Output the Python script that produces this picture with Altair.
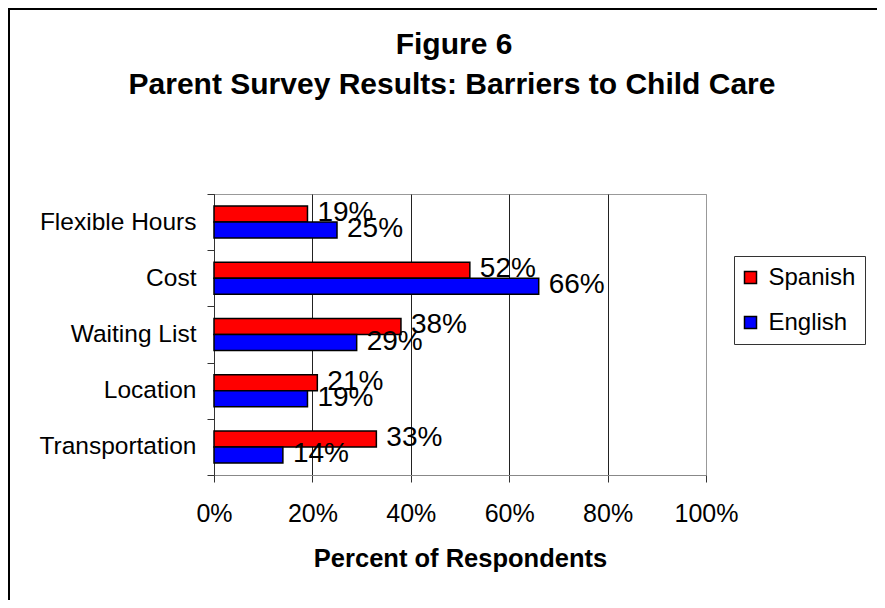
import altair as alt
import pandas as pd

categories = ["Flexible Hours", "Cost", "Waiting List", "Location", "Transportation"]
series = ["Spanish", "English"]
spanish = [19, 52, 38, 21, 33]
english = [25, 66, 29, 19, 14]
colors = ["#FF0000", "#0000FF"]
x_ticks = [0, 20, 40, 60, 80, 100]
title_lines = ["Figure 6", "Parent Survey Results: Barriers to Child Care"]

rows = []
for c, s, e in zip(categories, spanish, english):
    rows.append({"category": c, "series": "Spanish", "value": s / 100})
    rows.append({"category": c, "series": "English", "value": e / 100})
df = pd.DataFrame(rows)

FONT = "Liberation Sans"

y_enc = alt.Y(
    "category:N",
    sort=categories,
    scale=alt.Scale(paddingInner=0, paddingOuter=0),
    axis=alt.Axis(
        title=None, tickBand="extent", tickSize=7, labelPadding=11,
        labelFontSize=24.5, labelFont=FONT, labelColor="black",
        domainColor="#333333", tickColor="#333333", grid=False,
    ),
)
yoff = alt.YOffset("series:N", sort=series, scale=alt.Scale(paddingInner=0, paddingOuter=0.756))
x_enc = alt.X(
    "value:Q",
    scale=alt.Scale(domain=[0, 1]),
    axis=alt.Axis(
        values=[t / 100 for t in x_ticks], format=".0%", labelFlush=False,
        title="Percent of Respondents", titleFont=FONT, titleFontSize=25.5,
        titleFontWeight="bold", titleColor="black", titlePadding=20,
        labelFont=FONT, labelFontSize=25, labelColor="black", labelPadding=19,
        tickSize=7, tickColor="#333333", domainColor="#888888",
        grid=True,
        gridColor={"condition": {"test": "datum.value >= 1", "value": "#999999"}, "value": "#222222"},
        gridWidth=1,
    ),
)

bars = alt.Chart(df).mark_bar(stroke="black", strokeWidth=1.5).encode(
    y=y_enc,
    yOffset=yoff,
    x=x_enc,
    color=alt.Color(
        "series:N",
        sort=series,
        scale=alt.Scale(domain=series, range=colors),
        legend=alt.Legend(
            title=None, orient="none", legendX=520, legendY=62,
            symbolType="square", symbolSize=144, symbolStrokeColor="black",
            symbolStrokeWidth=1.5, symbolOffset=-5, labelFont=FONT, labelFontSize=24,
            labelColor="black", labelOffset=6, rowPadding=21, padding=9.5,
            strokeColor="#333333", fillColor="white", cornerRadius=0,
        ),
    ),
)

labels = alt.Chart(df).mark_text(
    align="left", baseline="middle", dx=10, dy=-1, fontSize=28, font=FONT, color="black"
).encode(
    y=alt.Y("category:N", sort=categories),
    yOffset=alt.YOffset("series:N", sort=series),
    x=alt.X("value:Q"),
    text=alt.Text("value:Q", format=".0%"),
)

frame = alt.Chart(alt.Data(values=[{}])).mark_rect(
    fill="white", fillOpacity=0, stroke="black", strokeWidth=2
).encode(
    x=alt.value(-205), x2=alt.value(720), y=alt.value(-185), y2=alt.value(500)
)

title1 = alt.Chart(alt.Data(values=[{}])).mark_text(
    text=title_lines[0], font=FONT, fontSize=30, fontWeight="bold",
    align="center", baseline="middle", color="black",
).encode(x=alt.value(240), y=alt.value(-149))

title2 = alt.Chart(alt.Data(values=[{}])).mark_text(
    text=title_lines[1], font=FONT, fontSize=30, fontWeight="bold",
    align="center", baseline="middle", color="black",
).encode(x=alt.value(238), y=alt.value(-109))

chart = alt.layer(frame, bars, labels, title1, title2).properties(
    width=492,
    height=281,
    autosize=alt.AutoSizeParams(type="none"),
    padding={"left": 206, "top": 186, "right": 171, "bottom": 125},
    background="white",
).configure_view(stroke="#999999", strokeWidth=1)

chart.save("out.html", embed_options={"renderer": "svg", "actions": False})
